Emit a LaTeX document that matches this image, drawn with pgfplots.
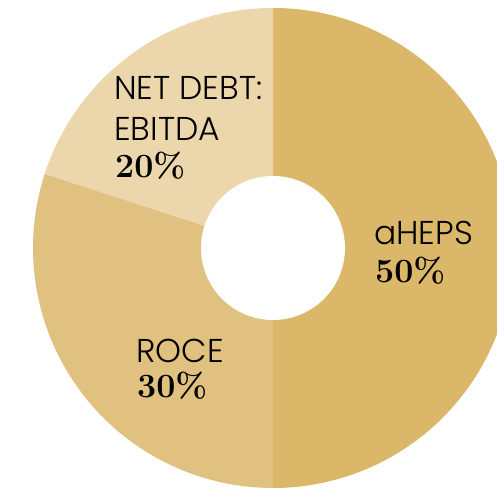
\documentclass[border=0pt]{standalone}
\usepackage{pgfplots}
\usepackage{pgfplotstable}
\pgfplotsset{compat=1.18}
\usepackage{fontspec}
\setsansfont{Poppins Light}

\definecolor{cA}{RGB}{219,183,106}
\definecolor{cB}{RGB}{224,193,128}
\definecolor{cC}{RGB}{236,214,172}

% share of each measure, drawn clockwise from 12 o'clock
\pgfplotstableread{
label value col
aHEPS 50 cA
ROCE 30 cB
NetDebt 20 cC
}\share

\begin{document}
\begin{tikzpicture}
\begin{axis}[
    hide axis,
    scale only axis,
    x=1pt, y=1pt,
    xmin=0, xmax=497,
    ymin=0, ymax=492,
    clip=true,
]
\coordinate (sw) at (rel axis cs:0,0);
\coordinate (ne) at (rel axis cs:1,1);
\def\startangle{90}
\pgfplotsforeachungrouped \i in {0,1,2}{%
  \pgfplotstablegetelem{\i}{value}\of\share \let\val=\pgfplotsretval
  \pgfplotstablegetelem{\i}{col}\of\share \let\col=\pgfplotsretval
  \pgfmathsetmacro\endangle{\startangle-3.6*\val}
  \edef\temp{\noexpand\fill[\col] (axis cs:273,244) -- ++(\startangle:240pt)
    arc[start angle=\startangle, end angle=\endangle, radius=240pt] -- cycle;}
  \temp
  \global\let\startangle\endangle
}
\fill[white] (axis cs:273,244) circle[radius=72pt];
\tikzset{lab/.style={anchor=base west, inner sep=0pt, text depth=0pt, font=\sffamily\fontsize{33}{34}\selectfont},
         pct/.style={anchor=base west, inner sep=0pt, text depth=0pt, font=\bfseries\fontsize{34}{36}\selectfont}}
\node[lab] at (axis cs:114,392) {NET DEBT:};
\node[lab] at (axis cs:114,351) {EBITDA};
\node[pct] at (axis cs:115,314) {20\%};
\node[lab] at (axis cs:374,247) {aHEPS};
\node[pct] at (axis cs:375,209) {50\%};
\node[lab] at (axis cs:136,129) {ROCE};
\node[pct] at (axis cs:137,94) {30\%};
\end{axis}
\pgfresetboundingbox
\path (sw) rectangle (ne);
\end{tikzpicture}
\end{document}
